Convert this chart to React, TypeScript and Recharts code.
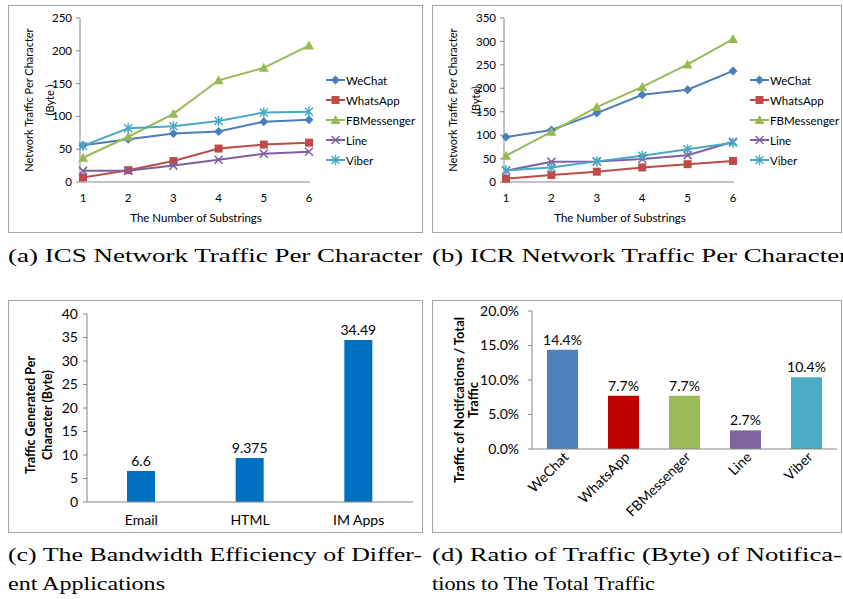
import React from "react";
import {
  LineChart,
  Line,
  BarChart,
  Bar,
  XAxis,
  YAxis,
  Legend,
  LabelList,
  Cell,
} from "recharts";

// (a) / (b) shared x categories
const substrings = [1, 2, 3, 4, 5, 6];

// (a) ICS network traffic per character (byte)
const icsWeChat = [56, 65, 74, 77, 92, 95];
const icsWhatsApp = [7, 18, 32, 51, 57, 60];
const icsFBMessenger = [37, 69, 104, 155, 174, 208];
const icsLine = [17, 17, 25, 34, 43, 46];
const icsViber = [55, 82, 85, 93, 106, 107];
const icsTicks = [0, 50, 100, 150, 200, 250];

// (b) ICR network traffic per character (byte)
const icrWeChat = [96, 111, 147, 186, 197, 237];
const icrWhatsApp = [7, 15, 22, 31, 38, 45];
const icrFBMessenger = [56, 107, 160, 203, 251, 305];
const icrLine = [24, 43, 44, 49, 57, 86];
const icrViber = [25, 31, 44, 56, 70, 84];
const icrTicks = [0, 50, 100, 150, 200, 250, 300, 350];

// (c) bandwidth efficiency
const appTypes = ["Email", "HTML", "IM Apps"];
const trafficPerChar = [6.6, 9.375, 34.49];
const efficiencyTicks = [0, 5, 10, 15, 20, 25, 30, 35, 40];

// (d) notification traffic ratio
const notifApps = ["WeChat", "WhatsApp", "FBMessenger", "Line", "Viber"];
const notifRatio = [0.144, 0.077, 0.077, 0.027, 0.104];
const ratioTicks = [0, 0.05, 0.1, 0.15, 0.2];

const FONT = "Lato, 'Liberation Sans', sans-serif";
const SERIF = "'Liberation Serif', serif";
const AXIS = "#868686";
const BORDER = "#A3A3A3";

const SERIES = [
  { key: "WeChat", color: "#4A7EBB", marker: "diamond" },
  { key: "WhatsApp", color: "#BE4B48", marker: "square" },
  { key: "FBMessenger", color: "#98B954", marker: "triangle" },
  { key: "Line", color: "#7D60A0", marker: "cross" },
  { key: "Viber", color: "#46AAC5", marker: "star" },
];
const BAR_COLORS = ["#4F81BD", "#C00000", "#9BBB59", "#8064A2", "#4BACC6"];

const buildRows = (cols: number[][]) =>
  substrings.map((n, i) => {
    const row: any = { n };
    SERIES.forEach((s, j) => (row[s.key] = cols[j][i]));
    return row;
  });

const icsData = buildRows([icsWeChat, icsWhatsApp, icsFBMessenger, icsLine, icsViber]);
const icrData = buildRows([icrWeChat, icrWhatsApp, icrFBMessenger, icrLine, icrViber]);
const efficiencyData = appTypes.map((name, i) => ({ name, value: trafficPerChar[i] }));
const ratioData = notifApps.map((name, i) => ({ name, value: notifRatio[i] }));

const Marker = ({ cx, cy, type, color }: any) => {
  if (cx == null || cy == null) return null;
  switch (type) {
    case "diamond":
      return (
        <polygon
          points={`${cx},${cy - 4.5} ${cx + 4.5},${cy} ${cx},${cy + 4.5} ${cx - 4.5},${cy}`}
          fill={color}
        />
      );
    case "square":
      return <rect x={cx - 4} y={cy - 4} width={8} height={8} fill={color} />;
    case "triangle":
      return (
        <polygon points={`${cx},${cy - 5} ${cx + 5},${cy + 4} ${cx - 5},${cy + 4}`} fill={color} />
      );
    case "cross":
      return (
        <path
          d={`M${cx - 4},${cy - 4}L${cx + 4},${cy + 4}M${cx - 4},${cy + 4}L${cx + 4},${cy - 4}`}
          stroke={color}
          strokeWidth={1.5}
        />
      );
    default:
      return (
        <path
          d={`M${cx - 4},${cy - 4}L${cx + 4},${cy + 4}M${cx - 4},${cy + 4}L${cx + 4},${cy - 4}M${cx},${cy - 5}L${cx},${cy + 5}`}
          stroke={color}
          strokeWidth={1.5}
        />
      );
  }
};

// legend keeps the series order, not the library's alphabetical sort
const LineLegend = ({ payload }: any) => (
  <div style={{ fontFamily: FONT, fontSize: 11.5, color: "#000" }}>
    {SERIES.map((s) => {
      const p = (payload || []).find((x: any) => x.dataKey === s.key);
      if (!p) return null;
      return (
        <div key={s.key} style={{ display: "flex", alignItems: "center", height: 20 }}>
          <svg width={19} height={12} style={{ marginRight: 1 }}>
            <line x1={0} y1={6} x2={19} y2={6} stroke={s.color} strokeWidth={2} />
            <Marker cx={9.5} cy={6} type={s.marker} color={s.color} />
          </svg>
          <span>{p.value}</span>
        </div>
      );
    })}
  </div>
);

// axis titles, drawn in an overlay at panel coordinates
const Title = ({ px, py, lines, gap = 0, turn = false, size = 11, bold = false }: any) => (
  <g transform={`translate(${px} ${py})${turn ? " rotate(-90)" : ""}`}>
    {lines.map((t: string, i: number) => (
      <text
        key={i}
        x={0}
        y={i * gap}
        textAnchor="middle"
        dominantBaseline="central"
        fontFamily={FONT}
        fontSize={size}
        fontWeight={bold ? 700 : 400}
        fill="#000"
      >
        {t}
      </text>
    ))}
  </g>
);

const AngledTick = ({ x, y, payload }: any) => (
  <text
    x={x + 7}
    y={y + 9}
    transform={`rotate(-45 ${x + 7} ${y + 9})`}
    textAnchor="end"
    fontFamily={FONT}
    fontSize={14}
    fill="#000"
  >
    {payload.value}
  </text>
);

const Panel = ({ left, top, width, height, titles, children }: any) => (
  <div
    style={{
      position: "absolute",
      left,
      top,
      width,
      height,
      outline: `1px solid ${BORDER}`,
      outlineOffset: -1,
      background: "#fff",
    }}
  >
    {children}
    <svg
      width={width}
      height={height}
      style={{ position: "absolute", left: 0, top: 0, pointerEvents: "none" }}
    >
      {titles}
    </svg>
  </div>
);

const tickStyle = (size: number) => ({ fontFamily: FONT, fontSize: size, fill: "#000" });

const TrafficLines = ({ data, ticks, max, padLeft }: any) => (
  <LineChart width={412} height={228} data={data} margin={{ top: 13, right: 110, bottom: 21, left: 0 }}>
    <XAxis
      dataKey="n"
      stroke={AXIS}
      tickLine={false}
      tickMargin={6}
      tick={tickStyle(11.5)}
      padding={{ left: padLeft, right: 1 }}
      height={30}
    />
    <YAxis
      domain={[0, max]}
      ticks={ticks}
      width={72}
      stroke={AXIS}
      tickSize={4}
      tickMargin={4}
      tick={tickStyle(11.5)}
    />
    <Legend
      layout="horizontal"
      align="center"
      verticalAlign="middle"
      content={<LineLegend />}
      wrapperStyle={{ left: 318, top: 65, width: 95 }}
    />
    {SERIES.map((s) => (
      <Line
        key={s.key}
        dataKey={s.key}
        stroke={s.color}
        strokeWidth={2}
        isAnimationActive={false}
        dot={(p: any) => <Marker key={`${s.key}-${p.index}`} cx={p.cx} cy={p.cy} type={s.marker} color={s.color} />}
        activeDot={false}
      />
    ))}
  </LineChart>
);

const trafficTitles = (yGap: number, unit: string) => (
  <>
    <Title px={188} py={212} lines={["The Number of Substrings"]} size={11.5} />
    <Title px={20} py={95} turn gap={yGap} lines={["Network Traffic Per Character", unit]} size={11} />
  </>
);

const Captions = () => (
  <svg
    width={843}
    height={599}
    style={{ position: "absolute", left: 0, top: 0, pointerEvents: "none" }}
  >
    <g fontFamily={SERIF} fontSize={18} fill="#000">
      <text x={8} y={262} textLength={414} lengthAdjust="spacingAndGlyphs">
        (a) ICS Network Traffic Per Character
      </text>
      <text x={432} y={262} textLength={416} lengthAdjust="spacingAndGlyphs">
        (b) ICR Network Traffic Per Character
      </text>
      <text x={8} y={561} textLength={414} lengthAdjust="spacingAndGlyphs">
        (c) The Bandwidth Efficiency of Differ-
      </text>
      <text x={8} y={590} textLength={157} lengthAdjust="spacingAndGlyphs">
        ent Applications
      </text>
      <text x={432} y={561} textLength={410} lengthAdjust="spacingAndGlyphs">
        (d) Ratio of Traffic (Byte) of Notifica-
      </text>
      <text x={432} y={590} textLength={223} lengthAdjust="spacingAndGlyphs">
        tions to The Total Traffic
      </text>
    </g>
  </svg>
);

export default function App() {
  return (
    <div
      style={{
        position: "absolute",
        left: 0,
        top: 0,
        width: 843,
        height: 599,
        overflow: "hidden",
        background: "#fff",
      }}
    >
      <Panel left={8} top={5} width={415} height={228} titles={trafficTitles(21, "(Byte )")}>
        <TrafficLines data={icsData} ticks={icsTicks} max={250} padLeft={3} />
      </Panel>

      <Panel left={432} top={5} width={410} height={228} titles={trafficTitles(23, "(Byte)")}>
        <TrafficLines data={icrData} ticks={icrTicks} max={350} padLeft={2} />
      </Panel>

      <Panel
        left={8}
        top={300}
        width={415}
        height={233}
        titles={
          <Title
            px={22}
            py={115}
            turn
            gap={17}
            bold
            size={12.5}
            lines={["Traffic Generated Per", "Character (Byte)"]}
          />
        }
      >
        <BarChart width={415} height={233} data={efficiencyData} margin={{ top: 14, right: 10, bottom: 0, left: 0 }}>
          <XAxis
            dataKey="name"
            stroke={AXIS}
            tickLine={false}
            tickMargin={7}
            tick={tickStyle(14)}
            height={31}
          />
          <YAxis
            domain={[0, 40]}
            ticks={efficiencyTicks}
            width={79}
            stroke={AXIS}
            tickSize={4}
            tickMargin={5}
            tick={tickStyle(14)}
          />
          <Bar dataKey="value" fill="#0070C0" barSize={28} isAnimationActive={false}>
            <LabelList dataKey="value" position="top" style={tickStyle(14)} />
          </Bar>
        </BarChart>
      </Panel>

      <Panel
        left={432}
        top={300}
        width={410}
        height={233}
        titles={
          <Title
            px={27}
            py={100}
            turn
            gap={14}
            bold
            size={13}
            lines={["Traffic of Notifcations / Total", "Traffic"]}
          />
        }
      >
        <BarChart width={410} height={233} data={ratioData} margin={{ top: 11, right: 5, bottom: 0, left: 0 }}>
          <XAxis
            dataKey="name"
            stroke={AXIS}
            tickLine={false}
            tickSize={0}
            tickMargin={0}
            tick={<AngledTick />}
            interval={0}
            height={84}
          />
          <YAxis
            domain={[0, 0.2]}
            ticks={ratioTicks}
            width={100}
            stroke={AXIS}
            tickSize={4}
            tickMargin={9}
            tick={tickStyle(14)}
            tickFormatter={(v: number) => `${(v * 100).toFixed(1)}%`}
          />
          <Bar dataKey="value" barSize={31} isAnimationActive={false}>
            {ratioData.map((d, i) => (
              <Cell key={d.name} fill={BAR_COLORS[i]} />
            ))}
            <LabelList
              dataKey="value"
              position="top"
              style={tickStyle(14)}
              formatter={(v: any) => `${(Number(v) * 100).toFixed(1)}%`}
            />
          </Bar>
        </BarChart>
      </Panel>

      <Captions />
    </div>
  );
}
